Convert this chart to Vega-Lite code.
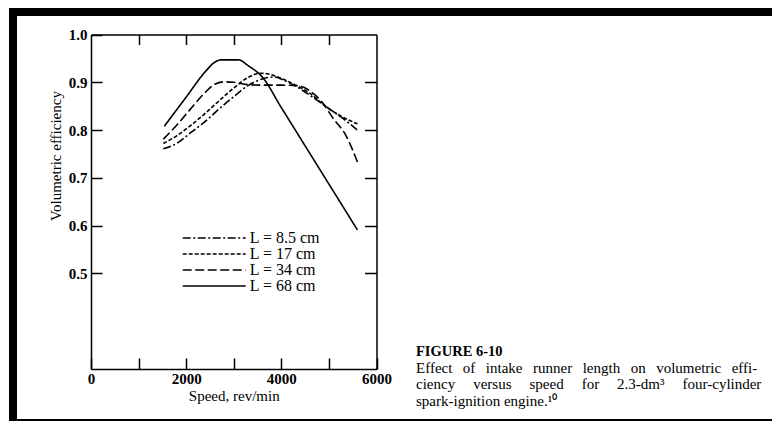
{
  "$schema": "https://vega.github.io/schema/vega-lite/v6.json",
  "width": 767,
  "height": 411,
  "autosize": {"type": "none"},
  "padding": {"left": 13, "top": 12, "right": -8, "bottom": -2},
  "background": "white",
  "title": {
    "text": "FIGURE 6-10",
    "subtitle": ["Effect\u2002\u2009of\u2002\u2009intake\u2002\u2009runner\u2002\u2009length\u2002\u2009on\u2002\u2009volumetric\u2002\u2009effi-", "ciency\u2003\u2009versus\u2003\u2009speed\u2003\u2009for\u2003\u20092.3-dm\u00b3\u2003\u2009four-cylinder", "spark-ignition engine.\u00b9\u2070"],
    "orient": "bottom",
    "anchor": "start",
    "frame": "group",
    "offset": -78,
    "dx": 403,
    "baseline": "top",
    "font": "Liberation Serif",
    "fontSize": 14.5,
    "fontWeight": "bold",
    "color": "black",
    "subtitleFont": "Liberation Serif",
    "subtitleFontSize": 15,
    "subtitleColor": "black",
    "subtitleLineHeight": 16.5,
    "subtitlePadding": 1
  },
  "data": {
    "values": [
      {"L": "L = 8.5 cm", "speed": 1520, "eff": 0.761},
      {"L": "L = 8.5 cm", "speed": 1800, "eff": 0.772},
      {"L": "L = 8.5 cm", "speed": 2100, "eff": 0.795},
      {"L": "L = 8.5 cm", "speed": 2400, "eff": 0.818},
      {"L": "L = 8.5 cm", "speed": 2700, "eff": 0.845},
      {"L": "L = 8.5 cm", "speed": 3000, "eff": 0.870},
      {"L": "L = 8.5 cm", "speed": 3300, "eff": 0.893},
      {"L": "L = 8.5 cm", "speed": 3600, "eff": 0.907},
      {"L": "L = 8.5 cm", "speed": 3850, "eff": 0.911},
      {"L": "L = 8.5 cm", "speed": 4100, "eff": 0.902},
      {"L": "L = 8.5 cm", "speed": 4400, "eff": 0.886},
      {"L": "L = 8.5 cm", "speed": 4700, "eff": 0.866},
      {"L": "L = 8.5 cm", "speed": 5000, "eff": 0.845},
      {"L": "L = 8.5 cm", "speed": 5300, "eff": 0.824},
      {"L": "L = 8.5 cm", "speed": 5600, "eff": 0.800},
      {"L": "L = 17 cm", "speed": 1520, "eff": 0.772},
      {"L": "L = 17 cm", "speed": 1800, "eff": 0.788},
      {"L": "L = 17 cm", "speed": 2100, "eff": 0.810},
      {"L": "L = 17 cm", "speed": 2400, "eff": 0.835},
      {"L": "L = 17 cm", "speed": 2700, "eff": 0.862},
      {"L": "L = 17 cm", "speed": 3000, "eff": 0.888},
      {"L": "L = 17 cm", "speed": 3300, "eff": 0.910},
      {"L": "L = 17 cm", "speed": 3550, "eff": 0.919},
      {"L": "L = 17 cm", "speed": 3700, "eff": 0.918},
      {"L": "L = 17 cm", "speed": 4000, "eff": 0.908},
      {"L": "L = 17 cm", "speed": 4300, "eff": 0.894},
      {"L": "L = 17 cm", "speed": 4600, "eff": 0.877},
      {"L": "L = 17 cm", "speed": 4900, "eff": 0.852},
      {"L": "L = 17 cm", "speed": 5200, "eff": 0.832},
      {"L": "L = 17 cm", "speed": 5600, "eff": 0.813},
      {"L": "L = 34 cm", "speed": 1520, "eff": 0.781},
      {"L": "L = 34 cm", "speed": 1800, "eff": 0.810},
      {"L": "L = 34 cm", "speed": 2100, "eff": 0.845},
      {"L": "L = 34 cm", "speed": 2400, "eff": 0.879},
      {"L": "L = 34 cm", "speed": 2600, "eff": 0.896},
      {"L": "L = 34 cm", "speed": 2800, "eff": 0.901},
      {"L": "L = 34 cm", "speed": 3000, "eff": 0.900},
      {"L": "L = 34 cm", "speed": 3300, "eff": 0.895},
      {"L": "L = 34 cm", "speed": 3600, "eff": 0.894},
      {"L": "L = 34 cm", "speed": 4000, "eff": 0.894},
      {"L": "L = 34 cm", "speed": 4350, "eff": 0.893},
      {"L": "L = 34 cm", "speed": 4600, "eff": 0.882},
      {"L": "L = 34 cm", "speed": 4850, "eff": 0.859},
      {"L": "L = 34 cm", "speed": 5100, "eff": 0.823},
      {"L": "L = 34 cm", "speed": 5350, "eff": 0.790},
      {"L": "L = 34 cm", "speed": 5600, "eff": 0.733},
      {"L": "L = 68 cm", "speed": 1540, "eff": 0.808},
      {"L": "L = 68 cm", "speed": 2000, "eff": 0.869},
      {"L": "L = 68 cm", "speed": 2400, "eff": 0.922},
      {"L": "L = 68 cm", "speed": 2600, "eff": 0.942},
      {"L": "L = 68 cm", "speed": 2750, "eff": 0.947},
      {"L": "L = 68 cm", "speed": 3100, "eff": 0.947},
      {"L": "L = 68 cm", "speed": 3300, "eff": 0.935},
      {"L": "L = 68 cm", "speed": 3600, "eff": 0.911},
      {"L": "L = 68 cm", "speed": 4000, "eff": 0.847},
      {"L": "L = 68 cm", "speed": 4500, "eff": 0.767},
      {"L": "L = 68 cm", "speed": 5000, "eff": 0.687},
      {"L": "L = 68 cm", "speed": 5600, "eff": 0.591}
    ]
  },
  "layer": [
    {
      "mark": {"type": "line", "interpolate": "monotone", "strokeWidth": 1.6, "color": "black"},
      "encoding": {
        "x": {
          "field": "speed", "type": "quantitative",
          "scale": {"domain": [0, 6000], "range": [78, 363.5], "nice": false, "zero": false},
          "axis": {
            "orient": "bottom", "offset": -54,
            "values": [0, 1000, 2000, 3000, 4000, 5000, 6000],
            "format": "d",
            "labelExpr": "datum.value % 2000 == 0 ? datum.label : ''",
            "tickSize": -11, "labelPadding": 13,
            "title": "Speed, rev/min", "titlePadding": 2
          }
        },
        "y": {
          "field": "eff", "type": "quantitative",
          "scale": {"domain": [0.3, 1.0], "range": [357, 22.5], "nice": false, "zero": false},
          "axis": {
            "orient": "left", "offset": -78,
            "values": [0.5, 0.6, 0.7, 0.8, 0.9, 1.0],
            "format": ".1f",
            "tickSize": -11, "labelPadding": 15,
            "title": "Volumetric efficiency", "titlePadding": 5, "titleY": 143.5
          }
        },
        "strokeDash": {
          "field": "L", "type": "nominal",
          "scale": {
            "domain": ["L = 8.5 cm", "L = 17 cm", "L = 34 cm", "L = 68 cm"],
            "range": [[8, 2.5, 2, 2.5], [4, 2], [9, 3.5], [1, 0]]
          },
          "legend": {
            "orient": "none", "legendX": 168.7, "legendY": 218,
            "title": null,
            "symbolType": "stroke", "symbolSize": 3969,
            "symbolStrokeWidth": 1.6, "symbolStrokeColor": "black",
            "clipHeight": 16, "rowPadding": 0, "padding": 0,
            "labelFont": "Liberation Serif", "labelFontSize": 16,
            "labelColor": "black", "labelOffset": 3
          }
        }
      }
    },
    {
      "mark": {"type": "point", "opacity": 0},
      "encoding": {
        "x": {
          "field": "speed", "type": "quantitative",
          "axis": {
            "orient": "top", "offset": -22.5,
            "values": [1000, 2000, 3000, 4000, 5000],
            "labels": false, "title": null, "tickSize": -10
          }
        },
        "y": {
          "field": "eff", "type": "quantitative",
          "axis": {
            "orient": "right", "offset": -403.5,
            "values": [0.5, 0.6, 0.7, 0.8, 0.9],
            "labels": false, "title": null, "tickSize": -12
          }
        }
      }
    }
  ],
  "resolve": {"axis": {"x": "independent", "y": "independent"}},
  "config": {
    "view": {"fill": "white", "stroke": "black", "strokeWidth": 8},
    "axis": {
      "grid": false, "labelFlush": false, "labelOverlap": false,
      "domainColor": "black", "tickColor": "black", "labelColor": "black", "titleColor": "black",
      "domainWidth": 1.5, "tickWidth": 1.5,
      "labelFont": "Liberation Serif", "labelFontSize": 15, "labelFontWeight": "bold",
      "titleFont": "Liberation Serif", "titleFontSize": 15, "titleFontWeight": "normal"
    }
  }
}
